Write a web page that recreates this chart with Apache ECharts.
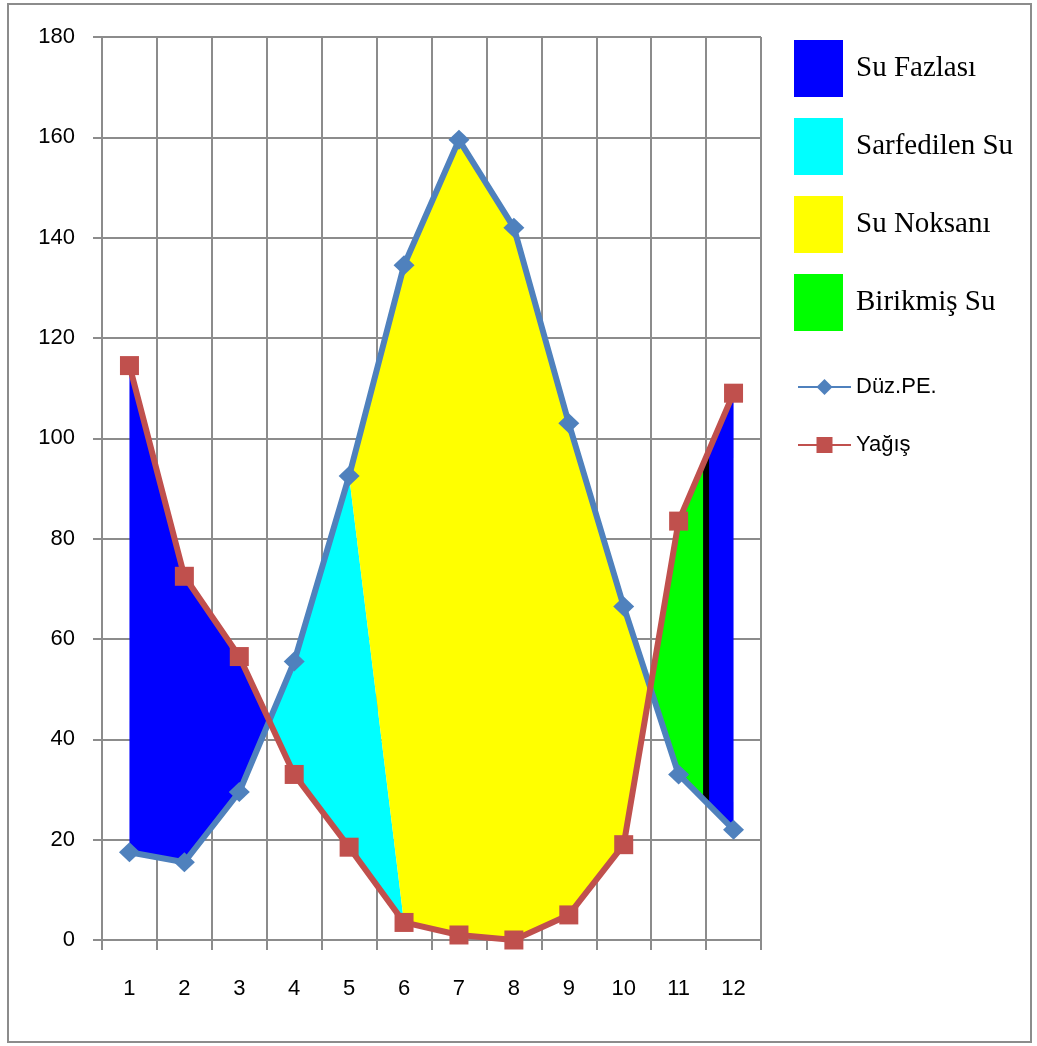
<!DOCTYPE html>
<html>
<head>
<meta charset="utf-8">
<script src="https://cdn.jsdelivr.net/npm/echarts@6/dist/echarts.min.js"></script>
<style>
  html, body { margin: 0; padding: 0; background: #fff; }
  #chart { width: 1037px; height: 1046px; }
</style>
</head>
<body>
<div id="chart"></div>
<script>
// Monthly water balance (Thornthwaite style)
const months = ['1', '2', '3', '4', '5', '6', '7', '8', '9', '10', '11', '12'];
const petValues = [17.5, 15.5, 29.5, 55.5, 92.5, 134.5, 159.5, 142, 103, 66.5, 33, 22]; // Düz.PE.
const rainValues = [114.5, 72.5, 56.5, 33, 18.5, 3.5, 1, 0, 5, 19, 83.5, 109];       // Yağış
const yTicks = { min: 0, max: 180, step: 20 };

// Season boundaries (in month units)
const storageExhausted = [5, 6];   // soil storage used up: PE at month 5 -> rain at month 6
const storageRefilled = 11.5;      // soil storage full again

const zoneNames = ['Su Fazlası', 'Sarfedilen Su', 'Su Noksanı', 'Birikmiş Su'];
const zoneColors = ['#0000ff', '#00ffff', '#ffff00', '#00ff00'];
const lineNames = ['Düz.PE.', 'Yağış'];

// ---- geometry helpers (all in data units: [month, mm]) ----
const P = i => [i + 1, petValues[i]];
const R = i => [i + 1, rainValues[i]];
function valueAt(arr, x) {
  const i = Math.floor(x) - 1, t = x - Math.floor(x);
  return arr[i] + (arr[i + 1] - arr[i]) * t;
}
// crossing of the two curves between month index i and i+1
function crossing(i) {
  const d0 = petValues[i] - rainValues[i];
  const d1 = petValues[i + 1] - rainValues[i + 1];
  const t = d0 / (d0 - d1);
  return [i + 1 + t, petValues[i] + (petValues[i + 1] - petValues[i]) * t];
}
const cA = crossing(2);   // between months 3 and 4
const cB = crossing(9);   // between months 10 and 11
const xr = storageRefilled;
const rainR = [xr, valueAt(rainValues, xr)];
const petR = [xr, valueAt(petValues, xr)];
const e0 = storageExhausted[0] - 1, e1 = storageExhausted[1] - 1;

const zones = [
  // Su Fazlası
  [
    [R(0), R(1), R(2), cA, P(2), P(1), P(0)],
    [rainR, R(11), P(11), petR]
  ],
  // Sarfedilen Su
  [
    [cA, P(3), P(e0), R(e1), R(4), R(3)]
  ],
  // Su Noksanı
  [
    [P(e0), P(5), P(6), P(7), P(8), P(9), cB, R(9), R(8), R(7), R(6), R(e1)]
  ],
  // Birikmiş Su
  [
    [cB, R(10), rainR, petR, P(10)]
  ]
];

const chart = echarts.init(document.getElementById('chart'), null, { renderer: 'canvas' });

const gridColor = '#8c8c8c';
const labelFont = 'Liberation Sans, Arial, sans-serif';

const zoneSeries = zoneNames.map((name, k) => ({
  type: 'custom',
  name: name,
  xAxisIndex: 1,
  yAxisIndex: 0,
  clip: false,
  silent: true,
  z: 1,
  itemStyle: { color: zoneColors[k] },
  data: zones[k].map((_, j) => [j]),
  renderItem: function (params, api) {
    const poly = zones[k][params.dataIndex];
    return {
      type: 'polygon',
      shape: { points: poly.map(p => api.coord(p)) },
      style: { fill: zoneColors[k], stroke: null }
    };
  }
}));

const option = {
  animation: false,
  backgroundColor: '#ffffff',
  graphic: [{
    type: 'rect',
    shape: { x: 8, y: 4, width: 1023, height: 1038 },
    style: { fill: null, stroke: gridColor, lineWidth: 2 },
    silent: true
  }],
  grid: { left: 102, top: 37, right: 276, bottom: 106, containLabel: false },
  legend: [
    {
      data: zoneNames,
      orient: 'vertical',
      left: 794,
      top: 40,
      padding: 0,
      icon: 'rect',
      itemWidth: 49,
      itemHeight: 57,
      itemGap: 21,
      selectedMode: false,
      textStyle: {
        fontFamily: 'Liberation Serif, Times New Roman, serif',
        fontSize: 29,
        color: '#000',
        padding: [4, 0, 0, 8]
      }
    },
    {
      data: lineNames,
      orient: 'vertical',
      left: 797,
      top: 376,
      padding: 0,
      itemWidth: 53,
      itemHeight: 20,
      itemGap: 36,
      selectedMode: false,
      textStyle: {
        fontFamily: labelFont,
        fontSize: 22,
        color: '#000'
      }
    }
  ],
  xAxis: [
    {
      type: 'category',
      data: months,
      boundaryGap: true,
      axisLine: { show: true, lineStyle: { color: gridColor, width: 2 } },
      axisTick: { show: true, length: 10, alignWithLabel: false, lineStyle: { color: gridColor, width: 2 } },
      axisLabel: { color: '#000', fontFamily: labelFont, fontSize: 22, margin: 38 },
      splitLine: { show: true, lineStyle: { color: gridColor, width: 2 } }
    },
    {
      type: 'value',
      min: 0.5,
      max: 12.5,
      show: false,
      splitLine: { show: false }
    }
  ],
  yAxis: [{
    type: 'value',
    min: yTicks.min,
    max: yTicks.max,
    interval: yTicks.step,
    axisLine: { show: true, lineStyle: { color: gridColor, width: 2 } },
    axisTick: { show: true, length: 9, lineStyle: { color: gridColor, width: 2 } },
    axisLabel: { color: '#000', fontFamily: labelFont, fontSize: 22, margin: 27 },
    splitLine: { show: true, lineStyle: { color: gridColor, width: 2 } }
  }],
  series: zoneSeries.concat([
    {
      type: 'line',
      name: 'storage-full',
      xAxisIndex: 1,
      silent: true,
      z: 3,
      symbol: 'none',
      lineStyle: { color: '#000', width: 6 },
      data: [petR, rainR]
    },
    {
      type: 'line',
      name: lineNames[0],
      xAxisIndex: 1,
      z: 4,
      symbol: 'diamond',
      symbolSize: [21, 20],
      lineStyle: { color: '#4f81bd', width: 6 },
      itemStyle: { color: '#4f81bd' },
      data: petValues.map((v, i) => [i + 1, v])
    },
    {
      type: 'line',
      name: lineNames[1],
      xAxisIndex: 1,
      z: 5,
      symbol: 'rect',
      symbolSize: 19,
      lineStyle: { color: '#c0504d', width: 6 },
      itemStyle: { color: '#c0504d' },
      data: rainValues.map((v, i) => [i + 1, v])
    }
  ])
};

chart.setOption(option);
</script>
</body>
</html>
